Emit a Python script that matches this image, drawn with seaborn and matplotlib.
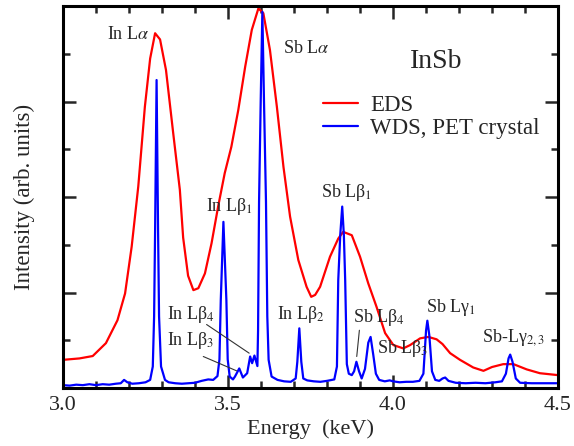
import numpy as np
import pandas as pd
import matplotlib
matplotlib.use("Agg")
import matplotlib.pyplot as plt
import seaborn as sns

# EDS spectrum (red): energy (keV), intensity (arb. units)
eds_energia = [3.000, 3.050, 3.090, 3.130, 3.165, 3.188, 3.208, 3.228, 3.248, 3.264,
               3.279, 3.294, 3.312, 3.334, 3.354, 3.364, 3.379, 3.395, 3.410, 3.430,
               3.450, 3.470, 3.490, 3.510, 3.531, 3.552, 3.572, 3.592, 3.607, 3.627,
               3.648, 3.668, 3.688, 3.713, 3.738, 3.752, 3.764, 3.779, 3.809, 3.834,
               3.849, 3.875, 3.900, 3.925, 3.950, 3.976, 4.001, 4.031, 4.052, 4.082,
               4.107, 4.132, 4.150, 4.173, 4.203, 4.243, 4.274, 4.300, 4.334, 4.365,
               4.405, 4.445, 4.500]
eds_intensidad = [0.59, 0.62, 0.67, 0.94, 1.42, 1.98, 2.96, 4.22, 5.89, 6.90,
                  7.43, 7.30, 6.66, 5.33, 4.15, 3.15, 2.35, 2.05, 2.09, 2.40,
                  3.03, 3.80, 4.50, 5.05, 5.82, 6.73, 7.50, 7.95, 7.85, 7.08,
                  5.89, 4.63, 3.59, 2.68, 2.12, 1.91, 1.95, 2.12, 2.75, 3.13,
                  3.27, 3.20, 2.75, 2.19, 1.70, 1.15, 0.90, 0.83, 0.90, 1.04,
                  1.07, 1.02, 0.92, 0.73, 0.59, 0.43, 0.36, 0.44, 0.50, 0.50,
                  0.39, 0.31, 0.27]

# WDS spectrum (blue, PET crystal)
wds_energia = [3.000, 3.020, 3.040, 3.060, 3.080, 3.100, 3.120, 3.140, 3.160, 3.175,
               3.185, 3.195, 3.210, 3.230, 3.250, 3.264, 3.272, 3.276, 3.279, 3.2835,
               3.288, 3.291, 3.297, 3.309, 3.320, 3.340, 3.360, 3.380, 3.400, 3.420,
               3.440, 3.455, 3.468, 3.474, 3.478, 3.486, 3.495, 3.499, 3.505, 3.515,
               3.521, 3.534, 3.545, 3.558, 3.567, 3.573, 3.580, 3.589, 3.591, 3.594,
               3.599, 3.604, 3.609, 3.615, 3.619, 3.623, 3.632, 3.650, 3.670, 3.690,
               3.705, 3.710, 3.716, 3.722, 3.728, 3.740, 3.760, 3.780, 3.800, 3.822,
               3.830, 3.834, 3.840, 3.846, 3.851, 3.855, 3.860, 3.866, 3.875, 3.882,
               3.889, 3.897, 3.905, 3.915, 3.925, 3.932, 3.940, 3.948, 3.958, 3.975,
               3.990, 4.000, 4.020, 4.040, 4.060, 4.080, 4.092, 4.100, 4.104, 4.110,
               4.118, 4.128, 4.140, 4.150, 4.158, 4.168, 4.190, 4.220, 4.250, 4.280,
               4.310, 4.330, 4.342, 4.350, 4.355, 4.362, 4.372, 4.385, 4.420, 4.460,
               4.500]
wds_intensidad = [0.06, 0.05, 0.07, 0.06, 0.08, 0.06, 0.08, 0.07, 0.09, 0.10,
                  0.17, 0.12, 0.09, 0.10, 0.12, 0.17, 0.45, 1.50, 3.30, 6.45,
                  3.30, 1.50, 0.45, 0.17, 0.12, 0.10, 0.09, 0.10, 0.11, 0.15,
                  0.18, 0.17, 0.25, 0.60, 1.84, 3.48, 1.84, 0.60, 0.24, 0.18,
                  0.24, 0.41, 0.22, 0.31, 0.66, 0.52, 0.68, 0.46, 1.20, 3.90,
                  6.00, 7.88, 6.00, 3.90, 1.50, 0.59, 0.24, 0.17, 0.14, 0.13,
                  0.20, 0.55, 1.25, 0.55, 0.20, 0.16, 0.14, 0.13, 0.15, 0.18,
                  0.45, 2.26, 3.20, 3.80, 3.20, 2.26, 0.50, 0.30, 0.27, 0.35,
                  0.55, 0.35, 0.20, 0.40, 0.95, 1.07, 0.70, 0.30, 0.17, 0.14,
                  0.16, 0.14, 0.12, 0.13, 0.13, 0.15, 0.30, 1.20, 1.41, 1.10,
                  0.35, 0.17, 0.15, 0.20, 0.22, 0.15, 0.11, 0.10, 0.11, 0.10,
                  0.12, 0.14, 0.30, 0.62, 0.70, 0.55, 0.20, 0.11, 0.10, 0.10,
                  0.10]

# peak labels: text, x, y (baseline)
etiquetas = [r"In L$\alpha$", r"Sb L$\alpha$", r"In Lβ$_1$", r"In Lβ$_4$", r"In Lβ$_3$",
             r"In Lβ$_2$", r"Sb Lβ$_1$", r"Sb Lβ$_4$", r"Sb Lβ$_3$", r"Sb Lγ$_1$",
             r"Sb-Lγ$_{2,3}$"]
etiq_x = [3.133, 3.667, 3.433, 3.316, 3.316, 3.649, 3.781, 3.880, 3.950, 4.100, 4.269]
etiq_y = [7.30, 7.01, 3.71, 1.44, 0.90, 1.44, 4.01, 1.39, 0.74, 1.60, 0.97]

# leader lines for the small peaks
lineas_guia = [([3.435, 3.564], [1.33, 0.73]),
               ([3.425, 3.526], [0.66, 0.36]),
               ([3.898, 3.890], [1.21, 0.66])]

eds = pd.DataFrame({"Energia": eds_energia, "Intensidad": eds_intensidad})
wds = pd.DataFrame({"Energia": wds_energia, "Intensidad": wds_intensidad})

sns.set_style("ticks")
plt.rcParams["font.family"] = ["Liberation Serif", "DejaVu Serif"]
plt.rcParams["mathtext.fontset"] = "stix"

fig = plt.figure(figsize=(5.74, 4.46), dpi=100)
ax = fig.add_axes([0.1098, 0.130, 0.8624, 0.8565])

sns.lineplot(data=eds, x="Energia", y="Intensidad", color="#ff0000", lw=1.6,
             sort=False, label="EDS", ax=ax)
sns.lineplot(data=wds, x="Energia", y="Intensidad", color="#0000ff", lw=1.6,
             sort=False, label="WDS, PET crystal", ax=ax)

for (lx, ly) in lineas_guia:
    ax.plot(lx, ly, color="#333333", lw=0.8)

for t, x, y in zip(etiquetas, etiq_x, etiq_y):
    ax.text(x, y, t, fontsize=13, ha="left", va="baseline")

ax.text(4.052, 6.70, "InSb", fontsize=20, ha="left", va="baseline")

ax.set_xlim(3.0, 4.5)
ax.set_ylim(0, 8)
ax.set_xticks([3.0, 3.5, 4.0, 4.5])
ax.set_xticklabels(["3.0", "3.5", "4.0", "4.5"])
ax.set_xticks(np.arange(3.0, 4.51, 0.1), minor=True)
ax.set_yticks([0, 2, 4, 6, 8])
ax.set_yticks([1, 3, 5, 7], minor=True)
ax.tick_params(which="both", direction="in", top=True, right=True, width=1.8,
               labelleft=False, labelsize=16, pad=6)
ax.tick_params(which="major", length=9.5)
ax.tick_params(which="minor", length=5)
for s in ax.spines.values():
    s.set_linewidth(2.2)
    s.set_color("black")

ax.set_xlabel("Energy  (keV)", fontsize=16, labelpad=3)
ax.set_ylabel("Intensity (arb. units)", fontsize=16.5, labelpad=20)

ax.legend(loc="upper left", bbox_to_anchor=(0.525, 0.766), frameon=False,
          fontsize=16.5, handlelength=1.55, handletextpad=0.5, labelspacing=0.05,
          borderpad=0, borderaxespad=0)

fig.savefig("out.png", dpi=100)
